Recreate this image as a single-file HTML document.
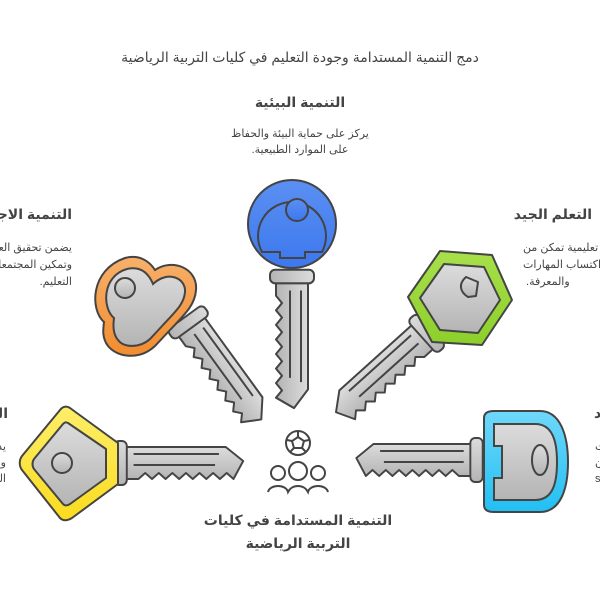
<!DOCTYPE html>
<html><head><meta charset="utf-8"><style>
html,body{margin:0;padding:0;background:#fff;}
svg{display:block;font-family:"Liberation Sans","Noto Sans CJK SC","DejaVu Sans",sans-serif;}
</style></head><body>
<svg width="600" height="600" viewBox="0 0 600 600" xmlns="http://www.w3.org/2000/svg">
<defs>
<linearGradient id="gr" x1="0" y1="0" x2="0" y2="1"><stop offset="0" stop-color="#dcdcdc"/><stop offset="1" stop-color="#b4b4b4"/></linearGradient>
<linearGradient id="bl" x1="0" y1="0" x2="0" y2="1"><stop offset="0" stop-color="#5b8ff2"/><stop offset="1" stop-color="#3c78ee"/></linearGradient>
<linearGradient id="or" x1="0" y1="0" x2="0" y2="1"><stop offset="0" stop-color="#f7b06a"/><stop offset="1" stop-color="#f28c30"/></linearGradient>
<linearGradient id="gn" x1="0" y1="0" x2="0" y2="1"><stop offset="0" stop-color="#a8e04a"/><stop offset="1" stop-color="#8ccf2a"/></linearGradient>
<linearGradient id="yl" x1="0" y1="0" x2="0" y2="1"><stop offset="0" stop-color="#fdee6a"/><stop offset="1" stop-color="#fbdc1e"/></linearGradient>
<linearGradient id="lb" x1="0" y1="0" x2="0" y2="1"><stop offset="0" stop-color="#6fd8fb"/><stop offset="1" stop-color="#22bff3"/></linearGradient>
<g id="shaft">
<path d="M52,-16 H157 L175,-2 L165,16 L158,10 L151,16 L144,10 L137,16 L130,10 L123,16 L116,10 L109,16 L102,10 L95,16 L88,10 L81,16 L74,10 L67,16 H52 Z" fill="url(#gr)" stroke="#444" stroke-width="2" stroke-linejoin="round"/>
<path d="M62,-9 H150 M62,2 H146" stroke="#444" stroke-width="2" fill="none"/>
<rect x="42" y="-22" width="13" height="44" rx="5" fill="url(#gr)" stroke="#444" stroke-width="2"/>
</g>
</defs>

<text x="300" y="62" text-anchor="middle" font-size="14" fill="#444">دمج التنمية المستدامة وجودة التعليم في كليات التربية الرياضية</text>
<text x="300" y="107" text-anchor="middle" font-size="14" font-weight="bold" fill="#444">التنمية البيئية</text>
<text x="300" y="137" text-anchor="middle" font-size="11" fill="#444">يركز على حماية البيئة والحفاظ</text>
<text x="300" y="153" text-anchor="middle" font-size="11" fill="#444">.على الموارد الطبيعية</text>

<text x="72" y="219" text-anchor="end" font-size="14" font-weight="bold" fill="#444">التنمية الاجتماعية</text>
<text x="72" y="251" text-anchor="end" font-size="11" fill="#444">يضمن تحقيق العدالة</text>
<text x="72" y="268" text-anchor="end" font-size="11" fill="#444">وتمكين المجتمعات عبر</text>
<text x="72" y="285" text-anchor="end" font-size="11" fill="#444">.التعليم</text>

<text x="592" y="219" text-anchor="end" font-size="14" font-weight="bold" fill="#444">التعلم الجيد</text>
<text x="523" y="251" font-size="11" fill="#444">بيئة تعليمية تمكن من</text>
<text x="523" y="268" font-size="11" fill="#444">اكتساب المهارات</text>
<text x="526" y="285" font-size="11" fill="#444">.والمعرفة</text>

<text x="8" y="418" text-anchor="end" font-size="14" font-weight="bold" fill="#444">التنمية الاقتصادية</text>
<text x="6" y="450" text-anchor="end" font-size="11" fill="#444">يدعم الابتكار</text>
<text x="6" y="466" text-anchor="end" font-size="11" fill="#444">والنمو</text>
<text x="6" y="482" text-anchor="end" font-size="11" fill="#444">.المستدام</text>

<text x="594" y="418" font-size="14" font-weight="bold" fill="#444">د</text>
<text x="595" y="450" font-size="11" fill="#444">ت</text>
<text x="595" y="466" font-size="11" fill="#444">ن</text>
<text x="595" y="482" font-size="11" fill="#444">s</text>

<!-- shafts: translate to collar, rotate, scale, offset -->
<use href="#shaft" transform="translate(292,276) rotate(90) scale(1.04,1) translate(-48,0)"/>
<use href="#shaft" transform="translate(188,322) rotate(54) scale(0.96,1) translate(-48,0)"/>
<use href="#shaft" transform="translate(427,333) rotate(138) scale(0.95,-1) translate(-48,0)"/>
<use href="#shaft" transform="translate(120,463) scale(0.97,1) translate(-48,0)"/>
<use href="#shaft" transform="translate(477,460) rotate(180) scale(0.95,-1) translate(-48,0)"/>

<!-- blue head -->
<circle cx="292" cy="224" r="44" fill="url(#bl)" stroke="#444" stroke-width="2"/>
<path d="M262,252 A34,34 0 1 1 322,252 L305,252 L305,258 L280,258 L280,252 Z" fill="none" stroke="#444" stroke-width="2"/>
<circle cx="297" cy="210" r="11" fill="url(#bl)" stroke="#444" stroke-width="2"/>

<!-- orange head -->
<g stroke="#444" stroke-width="2">
<path d="M104,322 C90,310 90,270 125,258 C140,254 150,262 155,270 C172,258 198,268 196,290 C195,305 185,314 170,330 L155,346 C140,360 118,358 108,346 C102,338 103,330 104,322 Z" fill="url(#or)"/>
<path d="M114,318 C102,308 102,276 127,269 C140,266 148,272 153,284 C168,270 186,278 185,292 C184,304 176,311 163,325 L150,339 C140,348 124,348 118,340 C113,334 113,326 114,318 Z" fill="url(#gr)"/>
<circle cx="125" cy="288" r="10" fill="url(#gr)"/>
</g>

<!-- green head -->
<g stroke="#444" stroke-width="2" stroke-linejoin="round">
<polygon points="440,251 492,255 512,300 482,345 432,342 408,297" fill="url(#gn)"/>
<polygon points="444,264 484,267 500,300 478,333 440,330 420,298" fill="url(#gr)"/>
<path d="M466,277 L478,282 L476,296 L468,297 C460,292 458,284 466,277 Z" fill="url(#gr)"/>
</g>

<!-- yellow head -->
<g stroke="#444" stroke-width="2" stroke-linejoin="round">
<path d="M70,408 L118,443 L118,484 L72,518 C67,521 63,521 60,518 L22,470 C19,466 19,460 22,456 L60,410 C63,406 67,406 70,408 Z" fill="url(#yl)"/>
<path d="M68,423 L106,449 L106,478 L70,504 C67,506 65,506 63,504 L34,469 C32,466 32,462 34,459 L63,424 C65,422 66,422 68,423 Z" fill="url(#gr)"/>
<circle cx="62" cy="463" r="10" fill="url(#gr)"/>
</g>

<!-- light blue head -->
<g stroke="#444" stroke-width="2">
<path d="M484,418 C484,413 488,411 494,411 L540,411 C560,411 568,435 568,462 C568,490 560,512 540,512 L494,512 C488,512 484,510 484,505 Z" fill="url(#lb)"/>
<path d="M494,424 L535,424 C552,424 557,440 557,462 C557,485 552,500 535,500 L494,500 L494,478 L502,478 L502,446 L494,446 Z" fill="url(#gr)"/>
<ellipse cx="540" cy="460" rx="8" ry="15" fill="url(#gr)"/>
</g>

<!-- icon -->
<g stroke="#444" stroke-width="2" fill="none">
<circle cx="298" cy="443" r="12"/>
<polygon points="298,437 304,441 302,448 294,448 292,441"/>
<path d="M298,431 V437 M309,440 L304,441 M306,452 L302,448 M290,452 L294,448 M287,440 L292,441"/>
<circle cx="278" cy="473" r="7"/>
<circle cx="298" cy="471" r="9"/>
<circle cx="318" cy="473" r="7"/>
<path d="M268,492 C270,484 286,484 288,492 C292,484 304,484 308,492 C310,484 326,484 328,492"/>
</g>

<text x="298" y="525" text-anchor="middle" font-size="14" font-weight="bold" fill="#444">التنمية المستدامة في كليات</text>
<text x="298" y="548" text-anchor="middle" font-size="14" font-weight="bold" fill="#444">التربية الرياضية</text>
</svg>
</body></html>
